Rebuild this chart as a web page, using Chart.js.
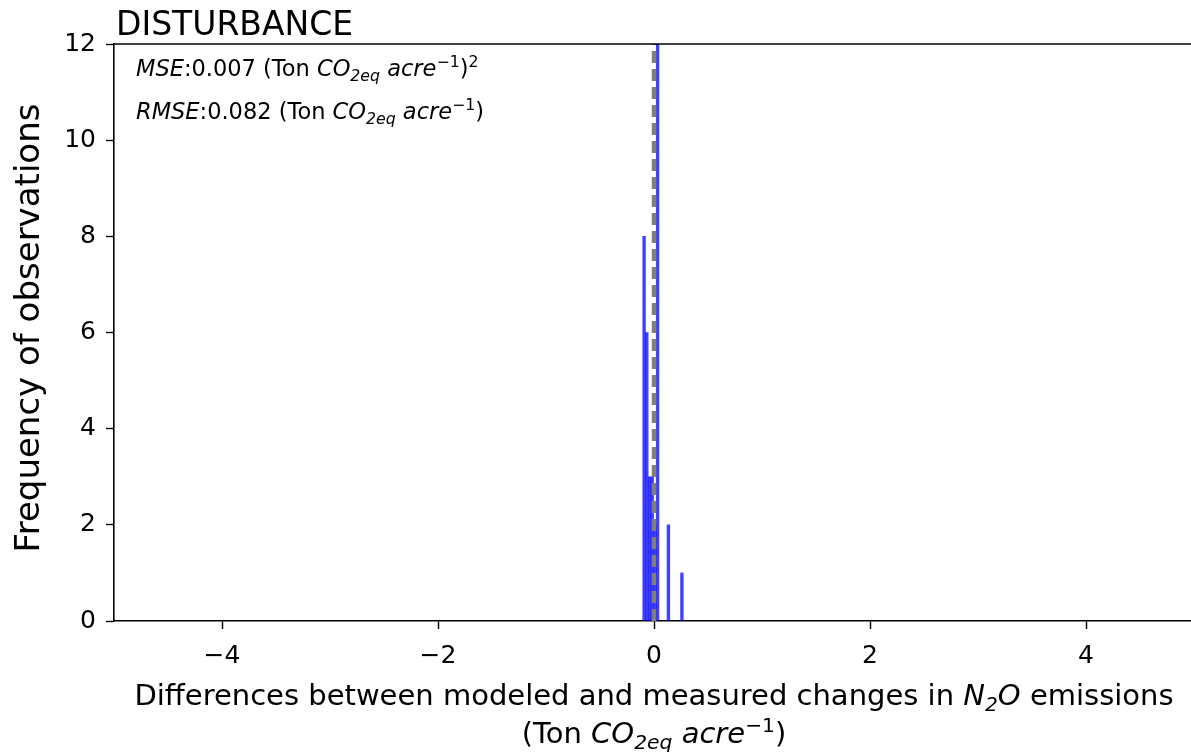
<!DOCTYPE html>
<html>
<head>
<meta charset="utf-8">
<script src="https://cdn.jsdelivr.net/npm/chart.js@4"></script>
<style>
  html, body { margin: 0; padding: 0; background: #fff; overflow: hidden; }
  #wrap { width: 1191px; height: 752px; overflow: hidden; }
  canvas { display: block; }
</style>
</head>
<body>
<div id="wrap"><canvas id="hist" width="1196" height="752"></canvas></div>
<script>
// ---- DATA ----
const binCenters = [-0.0915, -0.0665, -0.0415, -0.0165, 0.0085, 0.0335, 0.1335, 0.2585];
const binCounts = [8, 6, 3, 3, 2, 12, 2, 1];
const xTicks = [-4, -2, 0, 2, 4];
const yTicks = [0, 2, 4, 6, 8, 10, 12];
const zeroLine = [0, 12];

const FONT = "'DejaVu Sans', 'Liberation Sans', sans-serif";

// draw a run of text pieces (italic / sub / superscript) starting at x
function drawRuns(ctx, runs, x, y, size, align) {
  const pieces = runs.map(r => {
    const s = (r.sub || r.sup) ? size * 0.7 : size;
    const f = (r.it ? 'italic ' : '') + s + 'px ' + FONT;
    ctx.font = f;
    return { t: r.t, f, w: ctx.measureText(r.t).width, dy: r.sub ? size * 0.22 : r.sup ? -size * 0.38 : 0 };
  });
  const total = pieces.reduce((a, p) => a + p.w, 0);
  let cx = align === 'center' ? x - total / 2 : x;
  ctx.textAlign = 'left';
  ctx.textBaseline = 'alphabetic';
  pieces.forEach(p => {
    ctx.font = p.f;
    ctx.fillText(p.t, cx, y + p.dy);
    cx += p.w;
  });
}

const unitRuns = [
  { t: 'CO', it: true }, { t: '2eq', it: true, sub: true },
  { t: ' acre', it: true }, { t: '\u22121', sup: true },
];

// ---- TEXT / FRAME ----
const decorations = {
  id: 'decorations',
  afterDraw(chart) {
    const { ctx, chartArea } = chart;
    const xs = chart.scales.x;
    ctx.save();
    ctx.fillStyle = '#000';

    // top spine
    ctx.strokeStyle = '#000';
    ctx.lineWidth = 1.6;
    ctx.beginPath();
    ctx.moveTo(chartArea.left, chartArea.top);
    ctx.lineTo(chartArea.right, chartArea.top);
    ctx.stroke();

    // title
    ctx.font = '33px ' + FONT;
    ctx.textAlign = 'left';
    ctx.textBaseline = 'alphabetic';
    ctx.fillText('DISTURBANCE', chartArea.left + 2, 35);

    // error stats
    const ax = chartArea.left + 22;
    drawRuns(ctx, [{ t: 'MSE', it: true }, { t: ':0.007 (Ton ' }, ...unitRuns, { t: ')' }, { t: '2', sup: true }], ax, 76, 22.5);
    drawRuns(ctx, [{ t: 'RMSE', it: true }, { t: ':0.082 (Ton ' }, ...unitRuns, { t: ')' }], ax, 119, 22.5);

    // x axis title (two lines)
    const cx = (xs.getPixelForValue(-5) + xs.getPixelForValue(5)) / 2;
    drawRuns(ctx, [
      { t: 'Differences between modeled and measured changes in ' },
      { t: 'N', it: true }, { t: '2', it: true, sub: true }, { t: 'O', it: true },
      { t: ' emissions' },
    ], cx, 705, 29, 'center');
    drawRuns(ctx, [{ t: '(Ton ' }, ...unitRuns, { t: ')' }], cx, 743, 29, 'center');

    // y axis title
    ctx.translate(30, 328);
    ctx.rotate(-Math.PI / 2);
    ctx.font = '34px ' + FONT;
    ctx.textAlign = 'center';
    ctx.textBaseline = 'middle';
    ctx.fillText('Frequency of observations', 0, 0);
    ctx.restore();
  }
};

// ---- CHART ----
new Chart(document.getElementById('hist'), {
  data: {
    datasets: [
      {
        type: 'line',
        data: zeroLine.map(v => ({ x: 0, y: v })),
        borderColor: '#7f7f7f',
        borderWidth: 4.5,
        borderDash: [12, 6],
        pointRadius: 0,
        order: 0,
      },
      {
        type: 'bar',
        data: binCenters.map((c, i) => ({ x: c, y: binCounts[i] })),
        backgroundColor: 'rgba(0,0,255,0.75)',
        borderWidth: 0,
        barPercentage: 1,
        categoryPercentage: 1,
        order: 1,
      },
    ],
  },
  options: {
    responsive: false,
    animation: false,
    layout: { padding: { top: 44, right: 2, left: 0, bottom: 0 } },
    plugins: { legend: { display: false }, tooltip: { enabled: false } },
    scales: {
      x: {
        type: 'linear',
        min: -5,
        max: 5,
        offset: false,
        afterBuildTicks: s => { s.ticks = xTicks.map(v => ({ value: v })); },
        afterFit: s => { s.height = 131; },
        border: { color: '#000', width: 1.6 },
        grid: { drawOnChartArea: false, offset: false, color: '#000', tickLength: 8, tickWidth: 1.4 },
        ticks: {
          color: '#000',
          font: { family: FONT, size: 25 },
          padding: 12,
          maxRotation: 0,
          callback: v => String(v).replace('-', '\u2212'),
        },
      },
      y: {
        min: 0,
        max: 12,
        afterBuildTicks: s => { s.ticks = yTicks.map(v => ({ value: v })); },
        afterFit: s => { s.width = 114; },
        border: { color: '#000', width: 1.6 },
        grid: { drawOnChartArea: false, color: '#000', tickLength: 8, tickWidth: 1.4 },
        ticks: {
          color: '#000',
          font: { family: FONT, size: 25 },
          padding: 10,
        },
      },
    },
  },
  plugins: [decorations],
});
</script>
</body>
</html>
